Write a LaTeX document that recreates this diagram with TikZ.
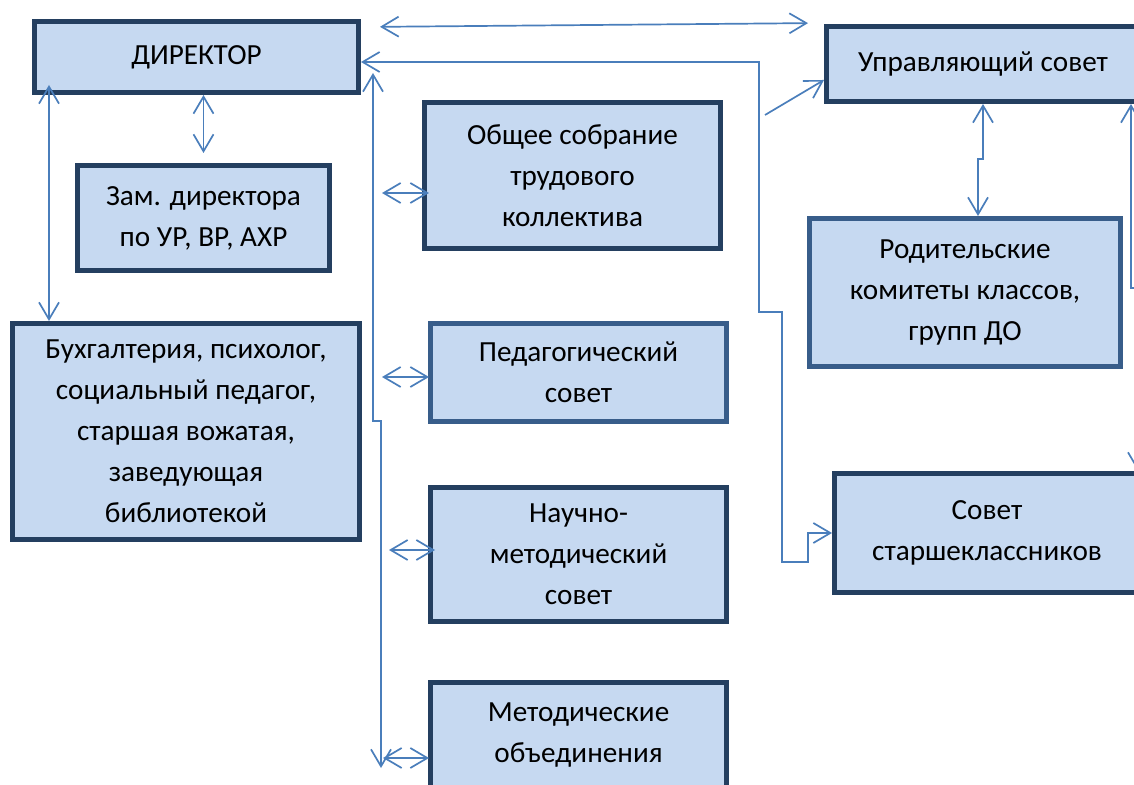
\documentclass[tikz,border=0pt]{standalone}
\usepackage{fontspec}
\setmainfont{Carlito}
\usepackage{tikz}
\usetikzlibrary{arrows.meta}
\usetikzlibrary{calc}
\usetikzlibrary{positioning}

\definecolor{boxfill}{HTML}{C6D9F1}
\definecolor{boxline}{HTML}{243F60}
\definecolor{boxlinemid}{HTML}{385D8A}
\definecolor{arrowblue}{HTML}{4A7EBB}

\begin{document}
\begin{tikzpicture}[x=0.5pt,y=-0.5pt]
	\tikzset{unit/.style = {shape=rectangle, draw=boxline, fill=boxfill,
			line width=2.5pt, inner sep=0pt, align=center,
			font=\fontsize{14.6}{20.5}\selectfont}}
	\tikzset{unitmid/.style = {unit, draw=boxlinemid}}
	\tikzset{edge/.style = {-{Straight Barb[length=8.5pt,width=10pt]},
			draw=arrowblue, line width=0.85pt}}
	\tikzset{edgebi/.style = {{Straight Barb[length=8.5pt,width=10pt]}-{Straight Barb[length=8.5pt,width=10pt]},
			draw=arrowblue, line width=0.85pt}}

	\useasboundingbox (0,0) rectangle (1134,785);
	\clip (0,0) rectangle (1134,785);

	% boxes
	\node[unit, minimum width=162pt, minimum height=35.5pt] (dir) at (196.5,57) {ДИРЕКТОР};
	\node[unit, minimum width=126pt, minimum height=52.5pt] (zam) at (203.5,218) {Зам. директора\\по УР, ВР, АХР};
	\node[unit, minimum width=173.5pt, minimum height=108pt] (buh) at (186,431.5) {Бухгалтерия, психолог,\\социальный педагог,\\старшая вожатая,\\заведующая\\библиотекой};
	\node[unit, minimum width=148pt, minimum height=73pt] (obsh) at (572.5,175.5) {Общее собрание\\трудового\\коллектива};
	\node[unitmid, minimum width=148pt, minimum height=49pt] (ped) at (578.5,372.5) {Педагогический\\совет};
	\node[unit, minimum width=148pt, minimum height=67pt] (nauch) at (578.5,554.5) {Научно-\\методический\\совет};
	\node[unit, minimum width=148pt, minimum height=52.5pt] (metod) at (578.5,735) {Методические\\объединения};
	\node[unit, minimum width=156.5pt, minimum height=37.5pt] (upr) at (983,64) {Управляющий совет};
	\node[unitmid, minimum width=155.5pt, minimum height=74pt] (rod) at (965,292.5) {Родительские\\комитеты классов,\\групп ДО};
	\node[unit, minimum width=152.5pt, minimum height=59.5pt] (sst) at (987,533) {Совет\\старшеклассников};

	% free ends
	\coordinate (bustop) at (373,73);
	\coordinate (busbot) at (381,768);
	\coordinate (uprin) at (765,115);

	% edges
	\draw[edgebi] (dir.south -| zam.north) -- ([yshift=5pt]zam.north);
	\draw[edgebi] ($(dir.south west)+(17,-10)$) -- ($(buh.north west)+(39,0)$);
	\draw[edgebi, shorten <=9.5pt, shorten >=8pt] ($(dir.north east)+(0,8)$) -- ($(upr.north west)+(0,-1)$);
	\draw[edgebi] ($(dir.east)+(0,5)$) -| (759,312) -| (782,562) -| (808,533) -- (sst.west);
	\draw[edgebi] (bustop) |- (381,421) -- (busbot);
	\draw[edgebi] ($(obsh.west)+(7,17.5)$) -- ++(-47,0);
	\draw[edgebi] ($(ped.west)+(1,4.5)$) -- ++(-47,0);
	\draw[edgebi] ($(nauch.west)+(7,-4.5)$) -- ++(-46,0);
	\draw[edgebi] ($(metod.west)+(1,23)$) -- ++(-46,0);
	\draw[edge] (uprin) -- ($(upr.west)+(0,16)$);
	\draw[edgebi] (upr.south) -- ++(0,55) -| ($(rod.north)+(13,0)$);
	\draw[edgebi] ($(upr.south east)+(-11,0)$) |- (1138,288) -- ($(sst.north east)+(-4,0)$);

\end{tikzpicture}
\end{document}
